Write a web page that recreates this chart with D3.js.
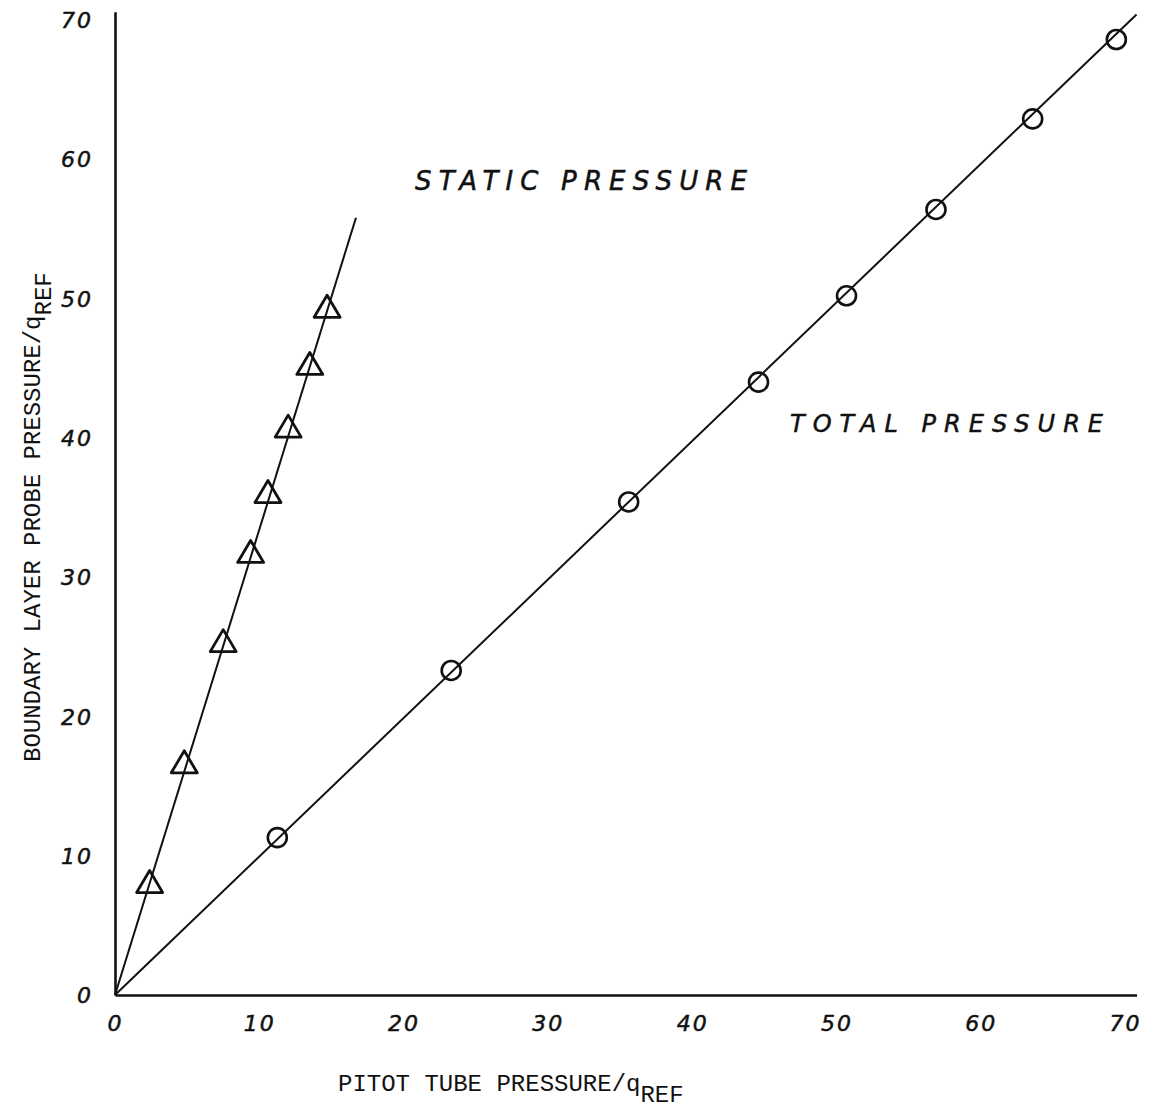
<!DOCTYPE html>
<html>
<head>
<meta charset="utf-8">
<script src="https://cdn.jsdelivr.net/npm/d3@7"></script>
<style>
  body { margin: 0; background: #fff; }
  svg { display: block; }
  .hand { font-family: "DejaVu Sans", sans-serif; font-style: italic; fill: #111; stroke: #111; stroke-width: 0.5; }
  .type { font-family: "Liberation Mono", "Courier New", monospace; fill: #111; }
</style>
</head>
<body>
<svg id="chart" width="1156" height="1113"></svg>
<script>
// values
const totalX  = [11.25, 23.3, 35.6, 44.6, 50.7, 56.9, 63.6, 69.4];
const totalY  = [11.3, 23.3, 35.4, 44.0, 50.2, 56.4, 62.9, 68.6];
const staticX = [2.4, 4.8, 7.5, 9.4, 10.6, 12.0, 13.5, 14.7];
const staticY = [8.0, 16.6, 25.3, 31.7, 36.0, 40.7, 45.2, 49.3];

// faired lines drawn through the points, from the origin
const totalFit  = [[0, 0], [70.8, 70.4]];
const staticFit = [[0, 0], [16.7, 55.8]];

const xTicks = [0, 10, 20, 30, 40, 50, 60, 70];
const yTicks = [0, 10, 20, 30, 40, 50, 60, 70];
const xMax = 70.8, yMax = 70.6;

const svg = d3.select('#chart');

const x = d3.scaleLinear().domain([0, 70]).range([115, 1125]);
const y = d3.scaleLinear().domain([0, 70]).range([995, 20]);

// axes (hand drawn heavy lines, no tick marks)
const xAxis = svg.append('g')
  .attr('transform', `translate(0,${y(0)})`)
  .call(d3.axisBottom(x.copy().domain([0, xMax]).range([x(0), x(xMax)]))
    .tickValues(xTicks).tickSize(0).tickPadding(20).tickFormat(d3.format('d')));

const yAxis = svg.append('g')
  .attr('transform', `translate(${x(0)},0)`)
  .call(d3.axisLeft(y.copy().domain([0, yMax]).range([y(0), y(yMax)]))
    .tickValues(yTicks).tickSize(0).tickPadding(22).tickFormat(d3.format('d')));

[xAxis, yAxis].forEach(g => {
  g.select('.domain').attr('stroke', '#111').attr('stroke-width', 2.6);
  g.selectAll('text')
    .attr('class', 'hand')
    .attr('font-size', 22)
    .attr('letter-spacing', 2)
    .attr('fill', '#111');
});
yAxis.selectAll('text').attr('dy', '0.35em');

// fitted lines
const line = d3.line().x(d => x(d[0])).y(d => y(d[1]));
svg.append('path').datum(totalFit).attr('d', line)
  .attr('fill', 'none').attr('stroke', '#111').attr('stroke-width', 2);
svg.append('path').datum(staticFit).attr('d', line)
  .attr('fill', 'none').attr('stroke', '#111').attr('stroke-width', 2);

// total pressure: circles
svg.append('g').selectAll('circle')
  .data(d3.zip(totalX, totalY))
  .join('circle')
  .attr('cx', d => x(d[0]))
  .attr('cy', d => y(d[1]))
  .attr('r', 9.5)
  .attr('fill', 'none')
  .attr('stroke', '#111')
  .attr('stroke-width', 2.6);

// static pressure: triangles
const tri = 'M0,-13L13,9L-13,9Z';
svg.append('g').selectAll('path')
  .data(d3.zip(staticX, staticY))
  .join('path')
  .attr('d', tri)
  .attr('transform', d => `translate(${x(d[0])},${y(d[1])})`)
  .attr('fill', 'none')
  .attr('stroke', '#111')
  .attr('stroke-width', 2.8)
  .attr('stroke-linejoin', 'round');

// curve labels
svg.append('text').attr('class', 'hand')
  .attr('x', 415).attr('y', 190)
  .attr('font-size', 26)
  .attr('textLength', 332).attr('lengthAdjust', 'spacing')
  .text('STATIC PRESSURE');

svg.append('text').attr('class', 'hand')
  .attr('x', 790).attr('y', 432)
  .attr('font-size', 24)
  .attr('textLength', 313).attr('lengthAdjust', 'spacing')
  .text('TOTAL PRESSURE');

// axis titles
const xt = svg.append('text').attr('class', 'type')
  .attr('x', 338).attr('y', 1091)
  .attr('font-size', 24);
xt.append('tspan').text('PITOT TUBE PRESSURE/q');
xt.append('tspan').attr('dy', 11).text('REF');

const yt = svg.append('text').attr('class', 'type')
  .attr('transform', 'translate(40,762) rotate(-90)')
  .attr('font-size', 24);
yt.append('tspan').text('BOUNDARY LAYER PROBE PRESSURE/q');
yt.append('tspan').attr('dy', 11).text('REF');
</script>
</body>
</html>
